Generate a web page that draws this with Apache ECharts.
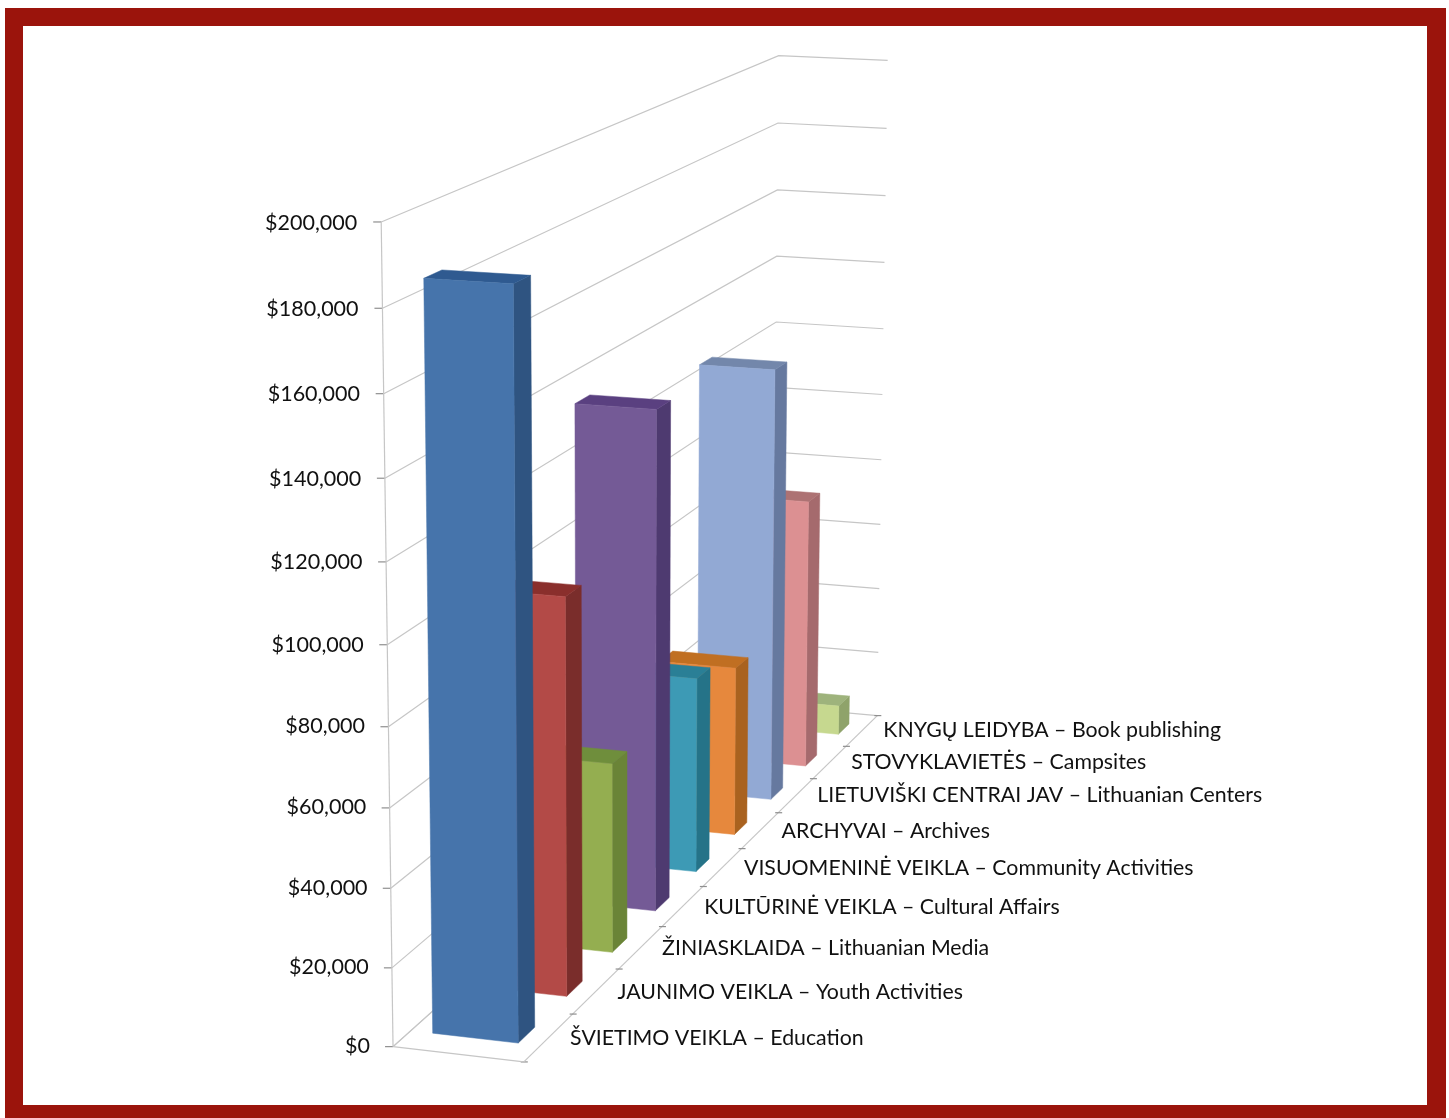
<!DOCTYPE html>
<html>
<head>
<meta charset="utf-8">
<style>html,body{margin:0;padding:0;background:#fff}#c{width:1449px;height:1118px}</style>
<script src="https://cdn.jsdelivr.net/npm/echarts@6/dist/echarts.min.js"></script>
</head>
<body>
<div id="c"></div>
<script>
const categories = [
  'ŠVIETIMO VEIKLA – Education',
  'JAUNIMO VEIKLA – Youth Activities',
  'ŽINIASKLAIDA – Lithuanian Media',
  'KULTŪRINĖ VEIKLA – Cultural Affairs',
  'VISUOMENINĖ VEIKLA – Community Activities',
  'ARCHYVAI – Archives',
  'LIETUVIŠKI CENTRAI JAV – Lithuanian Centers',
  'STOVYKLAVIETĖS – Campsites',
  'KNYGŲ LEIDYBA – Book publishing'
];
const values = [185300, 102500, 50300, 134800, 54200, 48000, 125000, 79500, 8800];
const valueTicks = [0, 20000, 40000, 60000, 80000, 100000, 120000, 140000, 160000, 180000, 200000];
const frontColors = ['#4674ab', '#b34a47', '#94ae50', '#745a96', '#3d9ab5', '#e6883d', '#92a9d4', '#dc9092', '#c6d88f'];
const sideColors  = ['#2f5481', '#7a2d2b', '#6a8437', '#4e3a70', '#257388', '#a9621f', '#66799f', '#a56a6d', '#8fa36a'];
const topColors   = ['#2f5a90', '#8a2f2c', '#6f8e3c', '#5a4080', '#2a7f96', '#c06f22', '#7387ab', '#ad7273', '#9eb37c'];

const MAX_V = 200000, N = categories.length;
const FONT = '"Lato","Noto Sans",sans-serif';

// Camera calibration: lateral u, depth d (0..1), height v (0..1) -> page pixels
const camera = [
  [0,0,0,393,1045],[0,0,1,381,222],[0,1,1,779.5,55],[0,1,0,772,708],
  [1,0,0,524,1063],[1,1,0,878,714],[1,1,1,887,61],
  [1,1/9,0,573,1015],[1,5/9,0,741,848]
];
function solveCamera(pts){
  const rows=[],rhs=[];
  pts.forEach(([u,d,v,x,y])=>{
    rows.push([u,d,v,1,0,0,0,0,-x*u,-x*d,-x*v]);rhs.push(x);
    rows.push([0,0,0,0,u,d,v,1,-y*u,-y*d,-y*v]);rhs.push(y);
  });
  const n=11,A=[];
  for(let i=0;i<n;i++){A.push(new Array(n+1).fill(0));
    for(let j=0;j<n;j++)rows.forEach(r=>A[i][j]+=r[i]*r[j]);
    rows.forEach((r,k)=>A[i][n]+=r[i]*rhs[k]);}
  for(let i=0;i<n;i++){let p=i;for(let k=i+1;k<n;k++)if(Math.abs(A[k][i])>Math.abs(A[p][i]))p=k;
    [A[i],A[p]]=[A[p],A[i]];
    for(let k=0;k<n;k++){if(k===i)continue;const f=A[k][i]/A[i][i];for(let j=i;j<=n;j++)A[k][j]-=f*A[i][j];}}
  return A.map((r,i)=>r[n]/r[i]);
}
const H = solveCamera(camera);
function project(api,u,cat,val){
  const o=api.coord([0,0]),e=api.coord([N,MAX_V]),p=api.coord([cat,val]);
  const d=(p[0]-o[0])/(e[0]-o[0]),v=(p[1]-o[1])/(e[1]-o[1]);
  const w=H[8]*u+H[9]*d+H[10]*v+1;
  return [(H[0]*u+H[1]*d+H[2]*v+H[3])/w,(H[4]*u+H[5]*d+H[6]*v+H[7])/w];
}
const GRID='#c6c6c6',TICK='#8f8f8f';
const line=(a,b,c,z,w)=>({type:'line',shape:{x1:a[0],y1:a[1],x2:b[0],y2:b[1]},style:{stroke:c,lineWidth:w||1.2},z2:z||0});

function renderWall(params,api){
  const val=api.value(0),f=val/MAX_V;
  const a=project(api,0,0,val),b=project(api,0,N,val),c=project(api,1,N,val);
  const kids=[
    {type:'polyline',shape:{points:[a,b,c]},style:{stroke:GRID,lineWidth:1.2,fill:null}},
    line([a[0]-8,a[1]],a,TICK),
    {type:'text',style:{text:'$'+val.toLocaleString('en-US'),x:a[0]-23-f,y:a[1]-1+2*f,textAlign:'right',textVerticalAlign:'middle',font:'21.5px '+FONT,fill:'#111'}}
  ];
  return {type:'group',children:kids};
}
function renderFloor(params,api){
  const i=api.value(0);
  const t=project(api,1,i,0),m=project(api,1,i+0.5,0);
  const kids=[
    line([t[0]-3,t[1]],[t[0]+4,t[1]],TICK),
    {type:'text',style:{text:categories[i],x:m[0]+21.5,y:m[1]+1-i*0.15,textAlign:'left',textVerticalAlign:'middle',font:'21.3px '+FONT,fill:'#111'}}
  ];
  if(i===N-1){const e=project(api,1,N,0);kids.push(line([e[0]-3,e[1]],[e[0]+4,e[1]],TICK));}
  if(i===0){
    const o=project(api,0,0,0),r=project(api,1,0,0),back=project(api,1,N,0),bl=project(api,0,N,0),top=project(api,0,0,MAX_V);
    kids.push(line(o,r,GRID),line(r,back,GRID),line(o,bl,GRID),line(top,o,GRID));
  }
  return {type:'group',children:kids};
}
const U0=0.17,U1=0.83,F=1/3,B=2/3;
function renderBar(params,api){
  const i=api.value(0),val=api.value(1),n=params.dataIndex;
  const z=(N-n)*10;
  const p=(u,c,v)=>project(api,u,i+c,v);
  const fbl=p(U0,F,0),fbr=p(U1,F,0),ftl=p(U0,F,val),ftr=p(U1,F,val);
  const bbr=p(U1,B,0),btl=p(U0,B,val),btr=p(U1,B,val);
  const poly=(pts,c,dz)=>({type:'polygon',shape:{points:pts},style:{fill:c,stroke:c,lineWidth:0.5},z2:z+dz});
  return {type:'group',children:[
    poly([fbr,bbr,btr,ftr],sideColors[n],0),
    poly([ftl,btl,btr,ftr],topColors[n],1),
    poly([fbl,fbr,ftr,ftl],frontColors[n],2)
  ]};
}
const frame=[
  {type:'rect',z:-10,shape:{x:5,y:8,width:1441,height:1110},style:{fill:'#9b140c'}},
  {type:'rect',z:-9,shape:{x:23,y:26,width:1404,height:1079},style:{fill:'#ffffff'}}
];
const chart=echarts.init(document.getElementById('c'));
const custom=(name,data,fn,z)=>({type:'custom',name,coordinateSystem:'cartesian2d',clip:false,silent:true,z,data,renderItem:fn,animation:false});
chart.setOption({
  animation:false,
  backgroundColor:'#fff',
  graphic:frame,
  grid:{left:100,top:100,width:900,height:900},
  xAxis:{type:'value',min:0,max:N,show:false},
  yAxis:{type:'value',min:0,max:MAX_V,show:false},
  series:[
    custom('Walls',valueTicks.map(v=>[v]),renderWall,2),
    custom('Floor',categories.map((c,i)=>[i]),renderFloor,3),
    custom('Values',values.map((v,i)=>[i,v]),renderBar,4)
  ]
});
</script>
</body>
</html>
